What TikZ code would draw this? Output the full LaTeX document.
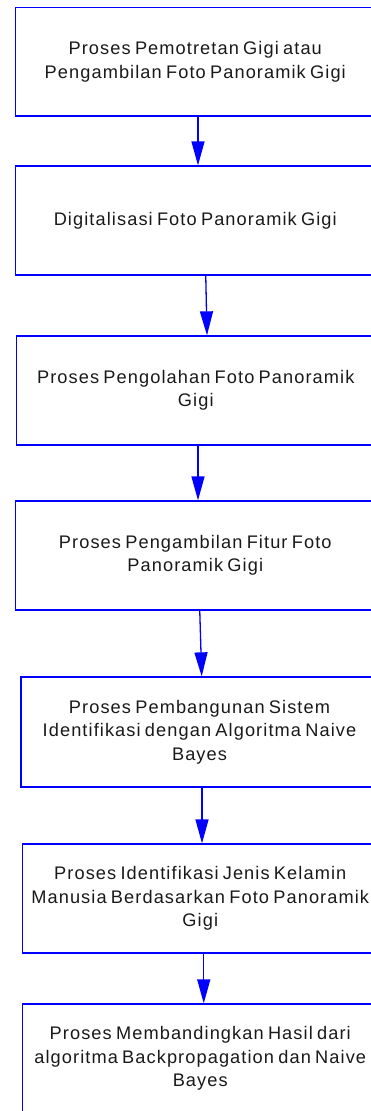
\documentclass[tikz,border=0pt]{standalone}
\usepackage{fontspec}
\setmainfont{Liberation Sans}[LetterSpace=6,WordSpace=0.7]
\usetikzlibrary{arrows.meta}
\definecolor{boxblue}{RGB}{0,0,255}
\tikzset{
  stepbox/.style={draw=boxblue, line width=1.3pt, rectangle, inner sep=0pt,
    align=center, font=\fontsize{18.2}{23.4}\selectfont, text=black!90},
  flow/.style={draw=boxblue, line width=1.3pt,
    -{Triangle[length=24pt,width=13pt]}, boxblue}
}
\begin{document}
\begin{tikzpicture}[x=1pt,y=-1pt]
\useasboundingbox (0,0) rectangle (371,1111);
\clip (0,0) rectangle (371,1111);
\node[stepbox, minimum width=359.5pt, minimum height=108.5pt] (b1) at (195.25,61.75)
  {Proses Pemotretan Gigi atau\\Pengambilan Foto Panoramik Gigi};
\node[stepbox, minimum width=359.5pt, minimum height=109pt] (b2) at (195.25,220.5)
  {Digitalisasi Foto Panoramik Gigi};
\node[stepbox, minimum width=358.5pt, minimum height=109pt] (b3) at (195.75,390.5)
  {Proses Pengolahan Foto Panoramik\\Gigi};
\node[stepbox, minimum width=359.5pt, minimum height=109pt] (b4) at (195.25,555.5)
  {Proses Pengambilan Fitur Foto\\Panoramik Gigi};
\node[stepbox, minimum width=357pt, minimum height=110pt] (b5) at (199.5,732)
  {Proses Pembangunan Sistem\\Identifikasi dengan Algoritma Naive\\Bayes};
\node[stepbox, minimum width=355.5pt, minimum height=109pt] (b6) at (200.25,898.5)
  {Proses Identifikasi Jenis Kelamin\\Manusia Berdasarkan Foto Panoramik\\Gigi};
\node[stepbox, minimum width=355.5pt, minimum height=109pt] (b7) at (200.25,1058.5)
  {Proses Membandingkan Hasil dari\\algoritma Backpropagation dan Naive\\Bayes};
\draw[flow] ([xshift=2.75pt]b1.south) -- ([xshift=2.75pt]b2.north);
\draw[flow] ([xshift=10.5pt]b2.south) -- ([xshift=11.25pt]b3.north);
\draw[flow] ([xshift=2.25pt]b3.south) -- ([xshift=2.75pt]b4.north);
\draw[flow] ([xshift=4.5pt]b4.south) -- ([xshift=2.2pt]b5.north);
\draw[flow] ([xshift=2.5pt]b5.south) -- ([xshift=1.75pt]b6.north);
\draw[flow] ([xshift=3.5pt]b6.south) -- ([xshift=3.5pt]b7.north);
\end{tikzpicture}
\end{document}
